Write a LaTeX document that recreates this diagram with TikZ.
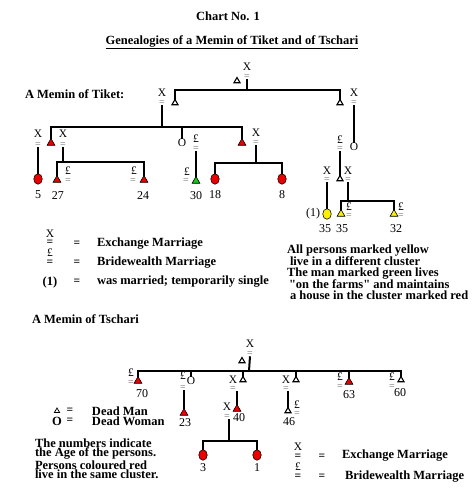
\documentclass[tikz,border=0pt]{standalone}
\usepackage{fontspec}
\setmainfont{Liberation Serif}[Ligatures=TeXOff]
\usetikzlibrary{shapes.geometric}
\definecolor{pred}{RGB}{235,0,0}
\definecolor{pgreen}{RGB}{20,200,20}
\definecolor{pyellow}{RGB}{250,240,0}
\begin{document}
\begin{tikzpicture}[x=1pt,y=-1pt,
  every node/.style={inner sep=0pt, outer sep=0pt},
  lbl/.style={font=\fontsize{11.5}{12}\selectfont},
  num/.style={font=\fontsize{12}{12}\selectfont},
  bt/.style={font=\fontsize{12.5}{12.5}\selectfont\bfseries, anchor=west},
  blk/.style={font=\fontsize{12.5}{#1}\selectfont\bfseries, anchor=north west, align=left},
  tt/.style={font=\fontsize{12.5}{12.5}\selectfont\bfseries},
  eqs/.style={font=\fontsize{10}{10}\selectfont, text=black!60},
  eqb/.style={font=\fontsize{11.5}{11.5}\selectfont\bfseries},
  dm/.style={regular polygon, regular polygon sides=3, draw=black, line width=1.1pt, minimum size=7pt, fill=white},
  man/.style={regular polygon, regular polygon sides=3, draw=black, line width=0.6pt, minimum size=9pt, fill=#1},
  wom/.style={ellipse, draw=black, line width=0.6pt, minimum width=8.5pt, minimum height=10.5pt, fill=#1},
  ln/.style={line width=2pt}
]
\useasboundingbox[fill=white] (0,0) rectangle (474,491);

% ---------- titles
\node[tt] (title) at (228,16) {Chart No. 1};
\node[tt] (subtitle) at (232,42) {\underline{Genealogies of a Memin of Tiket and of Tschari}};
\node[bt] (hTiket) at (25,94) {A Memin of Tiket:};

% ---------- Tiket: top generation
\node[lbl] (tX) at (247,67) {X};
\node[eqs] (tE) at (247,77) {=};
\node[dm] (tD) at (237,81) {};
\coordinate (tB) at (247,90);
\node[dm] (aL) at (175,103) {};
\node[dm] (aR) at (340,103) {};
\draw[ln] (tE.south) -- (tB);
\draw[ln] (aL.north) |- (tB) -| (aR.north);

% left son of top
\node[lbl] (aLX) at (162,93) {X};
\node[eqs] (aLE) at (162,103) {=};
\coordinate (b2) at (162,127);
\draw[ln] (aLE.south) -- (b2);
\node[man=pred] (c1) at (51,143) {};
\node[man=pred] (c4) at (242,143) {};
\node[lbl] (o30) at (182,143) {O};
\draw[ln] (c1.north) |- (b2) -| (c4.north);
\draw[ln] (o30.north) -- (o30.north |- b2);

% c1
\node[lbl] (c1X) at (38,134) {X};
\node[eqs] (c1E) at (38,145) {=};
\node[wom=pred] (w5) at (38,179) {};
\draw[ln] (c1E.south) -- (w5.north);
\node[num] (n5) at (38,195) {5};

% c2
\node[lbl] (c2X) at (63,134) {X};
\node[eqs] (c2E) at (63,145) {=};
\coordinate (b3) at (63,162);
\draw[ln] (c2E.south) -- (b3);
\node[man=pred] (m27) at (57,180) {};
\node[man=pred] (m24) at (144,180) {};
\draw[ln] (m27.north) |- (b3) -| (m24.north);
\node[lbl] (m27L) at (68,171) {£};
\node[eqs] (m27E) at (68,181) {=};
\node[lbl] (m24L) at (134,171) {£};
\node[eqs] (m24E) at (133,181) {=};
\node[num] (n27) at (58,196) {27};
\node[num] (n24) at (143,196) {24};

% c3
\node[lbl] (o30L) at (196,139) {£};
\node[eqs] (o30E) at (196,149) {=};
\node[man=pgreen] (g30) at (196,181) {};
\draw[ln] (o30E.south) -- (g30.north);
\node[lbl] (g30L) at (187,172) {£};
\node[eqs] (g30E) at (186,181) {=};
\node[num] (n30) at (196,196) {30};

% c4
\node[lbl] (c4X) at (256,133) {X};
\node[eqs] (c4E) at (256,143) {=};
\coordinate (b4) at (256,163);
\draw[ln] (c4E.south) -- (b4);
\node[wom=pred] (w18) at (215,179) {};
\node[wom=pred] (w8) at (282,179) {};
\draw[ln] (w18.north) |- (b4) -| (w8.north);
\node[num] (n18) at (215,195) {18};
\node[num] (n8) at (282,195) {8};

% right son of top
\node[lbl] (aRX) at (354,93) {X};
\node[eqs] (aRE) at (354,103) {=};
\node[lbl] (oR) at (354,147) {O};
\draw[ln] (aRE.south) -- (oR.north);
\node[lbl] (dRL) at (340,140) {£};
\node[eqs] (dRE) at (340,149) {=};
\node[dm] (dR) at (340,179) {};
\draw[ln] (dRE.south) -- (dR.north);
\node[lbl] (dRX) at (348,171) {X};
\node[eqs] (dRXE) at (348,180) {=};
\coordinate (b5) at (348,201);
\draw[ln] (dRXE.south) -- (b5);
\node[man=pyellow] (y35) at (341,214) {};
\node[man=pyellow] (y32) at (394,214) {};
\draw[ln] (y35.north) |- (b5) -| (y32.north);
\node[lbl] (y35L) at (349,207) {£};
\node[eqs] (y35E) at (349,216) {=};
\node[lbl] (y32L) at (401,207) {£};
\node[eqs] (y32E) at (401,216) {=};
\node[lbl] (wyX) at (327,171) {X};
\node[eqs] (wyE) at (327,180) {=};
\node[wom=pyellow] (wy) at (327,214) {};
\draw[ln] (wyE.south) -- (wy.north);
\node[num] (one) at (313,214) {(1)};
\node[num] (n35a) at (325,229) {35};
\node[num] (n35b) at (342,229) {35};
\node[num] (n32) at (396,229) {32};

% ---------- Tiket legend
\node[lbl] (lgX) at (50,234) {X};
\node[eqb] (lgXE) at (50,243) {=};
\node[lbl] (lgL) at (50,253) {£};
\node[eqb] (lgLE) at (50,263) {=};
\node[eqb] (lgE1) at (77,244) {=};
\node[bt] (lgT1) at (97,244) {Exchange Marriage};
\node[eqb] (lgE2) at (77,263) {=};
\node[bt] (lgT2) at (97,263) {Bridewealth Marriage};
\node[tt] (lg1) at (50,282) {(1)};
\node[eqb] (lgE3) at (77,282) {=};
\node[bt] (lgT3) at (97,282) {was married; temporarily single};

\node[blk=10.75] (rtext) at (287,244.5) {All persons marked yellow\\
\hspace*{3pt}live in a different cluster\\
The man marked green lives\\
\hspace*{2pt}"on the farms" and maintains\\
\hspace*{3pt}a house in the cluster marked red};

% ---------- Tschari
\node[bt] (hTschari) at (32,319) {A Memin of Tschari};
\node[lbl] (sX) at (250,344) {X};
\node[eqs] (sE) at (250,354) {=};
\node[dm] (sD) at (242,361) {};
\coordinate (sB) at (249,371);
\draw[ln] (sE.south) -- (sB);
\node[man=pred] (s1) at (138,381) {};
\node[lbl] (s2) at (191,381) {O};
\node[dm] (s3) at (243,380) {};
\node[dm] (s4) at (296,380) {};
\node[man=pred] (s5) at (349,382) {};
\node[dm] (s6) at (401,380) {};
\draw[ln] (s1.north) |- (sB) -| (s6.north);
\draw[ln] (s2.north) -- (s2.north |- sB);
\draw[ln] (s3.north) -- (s3.north |- sB);
\draw[ln] (s4.north) -- (s4.north |- sB);
\draw[ln] (s5.north) -- (s5.north |- sB);

% child 1
\node[lbl] (s1L) at (131,373) {£};
\node[eqs] (s1E) at (131,383) {=};
\node[num] (n70) at (142,394) {70};
% child 2
\node[lbl] (s2L) at (183,376) {£};
\node[eqs] (s2E) at (183,388) {=};
\node[man=pred] (m23) at (184,413) {};
\draw[ln] (m23.north |- s2E.south) -- (m23.north);
\node[num] (n23) at (185,423) {23};
% child 3
\node[lbl] (s3X) at (233,380) {X};
\node[eqs] (s3E) at (233,389) {=};
\node[man=pred] (m40) at (237,409) {};
\draw[ln] (m40.north |- s3E.south) -- (m40.north);
\node[lbl] (m40X) at (227,407) {X};
\node[eqs] (m40E) at (227,417) {=};
\node[num] (n40) at (239,418) {40};
\coordinate (sb2) at (229,441);
\draw[ln] (sb2 |- m40E.south) -- (sb2);
\node[wom=pred] (w3) at (203,455) {};
\node[wom=pred] (w1) at (257,455) {};
\draw[ln] (w3.north) |- (sb2) -| (w1.north);
\node[num] (n3) at (203,468) {3};
\node[num] (n1) at (257,468) {1};
% child 4
\node[lbl] (s4X) at (286,380) {X};
\node[eqs] (s4E) at (286,389) {=};
\node[dm] (d46) at (288,411) {};
\draw[ln] (d46.north |- s4E.south) -- (d46.north);
\node[lbl] (d46L) at (297,405) {£};
\node[eqs] (d46E) at (297,414) {=};
\node[num] (n46) at (289,422) {46};
% child 5
\node[lbl] (s5L) at (340,377) {£};
\node[eqs] (s5E) at (340,387) {=};
\node[num] (n63) at (349,395) {63};
% child 6
\node[lbl] (s6L) at (392,377) {£};
\node[eqs] (s6E) at (392,387) {=};
\node[num] (n60) at (400,393) {60};

% ---------- Tschari legends
\node[dm, line width=0.8pt, minimum size=6pt] (lgD) at (57,411) {};
\node[eqb] (lgDE) at (70,411) {=};
\node[tt] (lgO) at (57,421) {O};
\node[eqb] (lgOE) at (70,421) {=};
\node[blk=10] (lgDT) at (92,406.8) {Dead Man\\Dead Woman};

\node[blk=9.5] (tblock) at (35,438.8) {The numbers indicate\\
the Age of the persons.\\
Persons coloured red\\
live in the same cluster.};

\node[lbl] (lg2X) at (298,447) {X};
\node[eqb] (lg2XE) at (298,457) {=};
\node[lbl] (lg2L) at (298,467) {£};
\node[eqb] (lg2LE) at (298,477) {=};
\node[eqb] (lg2E1) at (322,457) {=};
\node[bt] (lg2T1) at (342,456) {Exchange Marriage};
\node[eqb] (lg2E2) at (322,477) {=};
\node[bt] (lg2T2) at (345,477) {Bridewealth Marriage};
\end{tikzpicture}
\end{document}
